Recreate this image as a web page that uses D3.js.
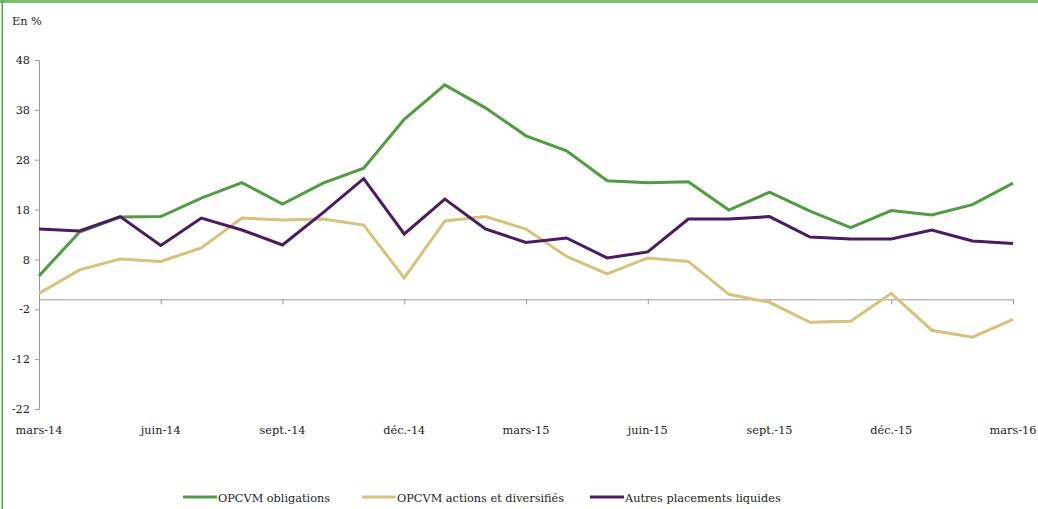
<!DOCTYPE html>
<html><head><meta charset="utf-8">
<script src="https://cdn.jsdelivr.net/npm/d3@7"></script>
<style>
body{margin:0;background:#fff;}
</style></head>
<body><svg id="c" width="1038" height="509"></svg>
<script>
const months = ["mars-14","avr.-14","mai-14","juin-14","juil.-14","août-14","sept.-14","oct.-14","nov.-14","déc.-14","janv.-15","févr.-15","mars-15","avr.-15","mai-15","juin-15","juil.-15","août-15","sept.-15","oct.-15","nov.-15","déc.-15","janv.-16","févr.-16","mars-16"];
const tickLabels = ["mars-14","juin-14","sept.-14","déc.-14","mars-15","juin-15","sept.-15","déc.-15","mars-16"];
const yTicks = [48,38,28,18,8,-2,-12,-22];
const obligations = [4.7,13.5,16.5,16.6,20.3,23.4,19.1,23.3,26.3,36.1,43.0,38.4,32.8,29.8,23.8,23.4,23.6,17.9,21.5,17.7,14.4,17.8,16.9,19.0,23.3];
const actions = [1.2,5.9,8.1,7.6,10.3,16.3,15.9,16.1,14.9,4.3,15.7,16.6,14.1,8.6,5.1,8.3,7.6,1.0,-0.6,-4.6,-4.4,1.2,-6.2,-7.6,-4.0];
const autres = [14.1,13.7,16.6,10.8,16.3,13.9,10.9,17.4,24.2,13.1,20.1,14.1,11.4,12.3,8.3,9.5,16.1,16.1,16.6,12.5,12.1,12.1,13.9,11.7,11.2];
const seriesNames = ["OPCVM obligations","OPCVM actions et diversifiés","Autres placements liquides"];
const colors = ["#519c42","#d6c27c","#4a1a63"];
const FONT = "DejaVu Serif";
const FS = "11.3px";

const svg = d3.select("#c");
svg.append("rect").attr("x",0).attr("y",0).attr("width",1038).attr("height",3).attr("fill","#7cbf6b");
svg.append("rect").attr("x",1.5).attr("y",0).attr("width",1.6).attr("height",509).attr("fill","#5aa64a");

const x = d3.scalePoint().domain(months).range([39,1013]);
const y = d3.scaleLinear().domain([-22,48]).range([409,60]);

svg.append("text").attr("x",12).attr("y",25).style("font-size",FS).style("font-family",FONT).attr("fill","#222").text("En %");

const ya = svg.append("g").attr("transform","translate(39,0)")
  .call(d3.axisLeft(y).tickValues(yTicks).tickSize(4).tickPadding(5).tickFormat(d=>String(d)));
ya.select(".domain").attr("stroke","#999").attr("d","M-4,409.5H0.5V60.5H-4");
ya.selectAll(".tick line").attr("stroke","#999");
ya.selectAll(".tick text").attr("fill","#222").style("font-family",FONT).style("font-size",FS);

const xa = svg.append("g").attr("transform",`translate(0,${y(0)})`)
  .call(d3.axisBottom(x).tickValues(tickLabels).tickSize(5).tickFormat(""));
xa.select(".domain").attr("stroke","#999").attr("d","M39,0.5H1013.5V5");
xa.selectAll(".tick line").attr("stroke","#999");

svg.append("g").selectAll("text").data(tickLabels).join("text")
  .attr("x",d=>x(d)).attr("y",434).attr("text-anchor","middle").attr("fill","#222")
  .style("font-family",FONT).style("font-size",FS).text(d=>d);

const line = d3.line().x((d,i)=>x(months[i])).y(d=>y(d));
[obligations,actions,autres].forEach((s,k)=>{
  svg.append("path").datum(s).attr("d",line).attr("fill","none")
    .attr("stroke",colors[k]).attr("stroke-width",3).attr("stroke-linejoin","miter");
});

const legX = [183,362,590];
seriesNames.forEach((n,k)=>{
  svg.append("line").attr("x1",legX[k]).attr("x2",legX[k]+34).attr("y1",497).attr("y2",497)
    .attr("stroke",colors[k]).attr("stroke-width",3);
  svg.append("text").attr("x",legX[k]+35).attr("y",501.5).style("font-size",FS)
    .style("font-family",FONT).attr("fill","#222").text(n);
});
</script></body></html>
